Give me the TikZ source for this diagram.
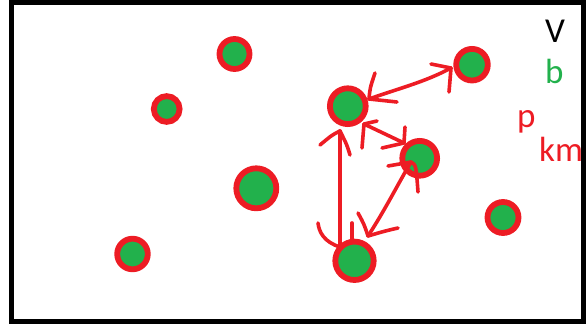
\documentclass[tikz,border=0pt]{standalone}
\usepackage{fontspec}
\setmainfont{Carlito}
\definecolor{pred}{RGB}{237,28,36}
\definecolor{pgreen}{RGB}{34,177,76}
\begin{document}
\begin{tikzpicture}[x=1pt,y=-1pt,
  dot/.style={circle,inner sep=0pt,fill=pgreen,draw=pred,line width=5.8pt,minimum size=#1},
  hand/.style={draw=pred,line width=3.6pt,line cap=round,line join=round},
  lbl/.style={font=\fontsize{35}{40}\selectfont,inner sep=0pt,anchor=base west}]
\useasboundingbox (0,0) rectangle (586,324);
\draw[line width=5pt] (11.5,2.5) rectangle (583.5,321.5);
% dots
\node[dot=30pt] (n1) at (234.5,54) {};
\node[dot=25.8pt] (n2) at (166.7,109) {};
\node[dot=40pt] (n3) at (256.3,188.3) {};
\node[dot=30.6pt] (n4) at (132.5,254) {};
\node[dot=35.8pt] (n5) at (347.8,106.2) {};
\node[dot=31.6pt] (n6) at (472,64.7) {};
\node[dot=34.8pt] (n7) at (419.7,158.3) {};
\node[dot=38.4pt] (n8) at (354.5,260.8) {};
\node[dot=31pt] (n9) at (503,217.5) {};
% labels
\node[lbl] (lv) at (545,42) {V};
\node[lbl,text=pgreen] (lb) at (545,83) {b};
\node[lbl,text=pred] (lp) at (517,127) {p};
\node[lbl,text=pred] (lkm) at (539,161.5) {km};
% arrow n5 <-> n6
\coordinate (ta1) at (369,99);
\coordinate (ta2) at (451,68);
\draw[hand] (ta1) .. controls (400,88) and (425,82) .. (ta2);
\draw[hand] (ta1) .. controls (370,88) .. (375,73);
\draw[hand] (ta1) -- (397,102);
\draw[hand] (ta2) -- (431,64);
\draw[hand] (ta2) -- (449,92);
% arrow n5 <-> n7
\coordinate (tb1) at (364,124);
\coordinate (tb2) at (404,143);
\draw[hand] (tb1) -- (tb2);
\draw[hand] (tb1) -- (377,121);
\draw[hand] (tb1) -- (362,148);
\draw[hand] (tb2) -- (405,127);
\draw[hand] (tb2) -- (382,148);
% arrow n5 <-> n8
\coordinate (tc1) at (340,131);
\coordinate (tc2) at (340,247);
\draw[hand] (tc1) -- (tc2);
\draw[hand] (tc1) .. controls (332,135) .. (320,145);
\draw[hand] (tc1) .. controls (347,145) .. (350,155);
\draw[hand] (tc2) .. controls (324,242) and (319,232) .. (318,223);
\draw[hand] (352,223) -- (352,241);
% arrow n7 <-> n8
\coordinate (td1) at (411,162);
\coordinate (td2) at (368,236);
\draw[hand] (td1) .. controls (398,184) and (385,210) .. (td2);
\draw[hand] (td2) .. controls (364,224) .. (358,213);
\draw[hand] (td2) .. controls (385,231) .. (398,228);
\draw[hand] (td1) -- (388,166);
\draw[hand] (td1) .. controls (416,165) .. (418,192);
\end{tikzpicture}
\end{document}
